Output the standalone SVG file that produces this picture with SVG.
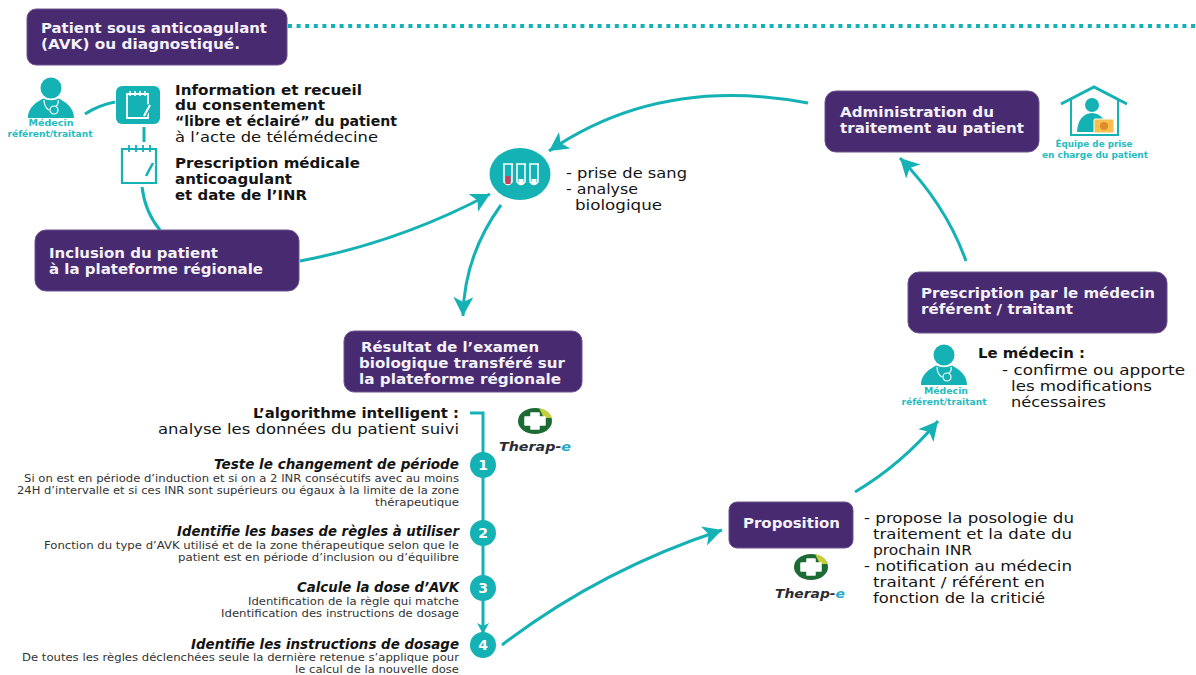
<svg xmlns="http://www.w3.org/2000/svg" width="1196" height="675" viewBox="0 0 1196 675">
<style>
text{font-family:"DejaVu Sans","Open Sans",sans-serif;fill:#141414}
.box{fill:#472a70;stroke:#6d5390;stroke-width:1}
.bt{fill:#f4f1f8;font-size:13.6px;font-weight:700}
.bb{font-size:13.6px;font-weight:700}
.rg{font-size:13.6px}
.lab{fill:#25bcc0;font-size:9px;font-weight:700;text-anchor:middle}
.c{fill:none;stroke:#14b1b5;stroke-width:3}
.h{font-size:13.6px;font-weight:700;font-style:italic;text-anchor:end}
.s{font-size:9.8px;text-anchor:end;fill:#333}
.n{fill:#fff;font-size:14px;font-weight:700;text-anchor:middle}
.ci{fill:#14b1b5}
.th{font-size:13px;font-weight:700;font-style:italic;fill:#2b2b33}
</style>
<defs>
<marker id="ah" markerUnits="userSpaceOnUse" markerWidth="26" markerHeight="26" refX="19" refY="11" orient="auto">
<path d="M0 1 L19 11 L0 21 L5 11Z" fill="#14b1b5"/>
</marker>
<marker id="as" markerUnits="userSpaceOnUse" markerWidth="16" markerHeight="16" refX="11" refY="7" orient="auto">
<path d="M0 1 L11 7 L0 13 L3 7Z" fill="#14b1b5"/>
</marker>
<symbol id="doc" overflow="visible" viewBox="0 0 1 1" width="1" height="1">
<circle cx="0" cy="0" r="10.5" fill="#14b1b5"/>
<path d="M-23 30C-23 18-12 13-8 10.500Q0 14 8 10.500C12 13 23 18 23 30Z" fill="#14b1b5"/>
<path d="M-7 12Q-7 19-2 22M7 12Q8 16 5 18" fill="none" stroke="#fff" stroke-width="1.200"/>
<circle cx="3" cy="22" r="4" fill="none" stroke="#fff" stroke-width="1.200"/>
</symbol>
<symbol id="logo" overflow="visible" viewBox="0 0 1 1" width="1" height="1">
<ellipse cx="0" cy="0" rx="17" ry="13" fill="#1d6b34"/>
<path d="M4-13Q14-11 17-3L9-3Z" fill="#c6cf3a"/>
<path d="M-4-8H4V-4H10V4H4V8H-4V4H-10V-4H-4Z" fill="#fff" stroke="#fff" stroke-width="1.500" stroke-linejoin="round"/>
</symbol>
</defs>

<g id="connectors">
<path class="c" style="stroke-dasharray:4 4.600;stroke-width:4" d="M288 26H1196"/>
<path class="c" d="M85 114Q99 105 115 102"/>
<path class="c" d="M144 127V142"/>
<path class="c" d="M142 187Q145 212 160 230"/>
<path class="c" d="M300 261Q400 242 490 194" marker-end="url(#ah)"/>
<path class="c" d="M808 103Q660 75 549 151" marker-end="url(#ah)"/>
<path class="c" d="M501 205Q464 256 463 316" marker-end="url(#ah)"/>
<path class="c" d="M966 261Q946 205 900 158" marker-end="url(#ah)"/>
<path class="c" d="M855 492Q902 464 938 421" marker-end="url(#ah)"/>
<path class="c" d="M502 645Q600 570 722 530" marker-end="url(#ah)"/>
<path class="c" d="M470 413H483V634" marker-end="url(#as)"/>
</g>

<g id="patient"><rect class="box" x="27" y="9" width="260" height="56" rx="9"/>
<text class="bt" x="41" y="33" textLength="226" lengthAdjust="spacingAndGlyphs">Patient sous anticoagulant</text><text class="bt" x="41" y="49" textLength="199" lengthAdjust="spacingAndGlyphs">(AVK) ou diagnostiqué.</text></g>

<g id="medecin-1"><use href="#doc" x="51" y="88"/><text class="lab" x="51" y="126" textLength="45" lengthAdjust="spacingAndGlyphs">Médecin</text><text class="lab" x="50" y="137" textLength="85" lengthAdjust="spacingAndGlyphs">référent/traitant</text></g>

<g id="consent-icon"><rect x="116" y="86" width="44" height="38" rx="6" class="ci"/>
<path d="M127 94H148V118H127Z" fill="none" stroke="#fff" stroke-width="1.800"/>
<path d="M130 91V96M135 91V96M140 91V96M145 91V96" stroke="#fff" stroke-width="1.500"/>
<path d="M150 105L144 116" stroke="#14b1b5" stroke-width="5"/><path d="M150 105L144 116" stroke="#fff" stroke-width="2.200"/></g>

<g id="prescription-icon"><path d="M122 149H156V183H122Z" fill="none" stroke="#14b1b5" stroke-width="2.200"/>
<path d="M129 145V152M136 145V152M143 145V152M150 145V152" stroke="#14b1b5" stroke-width="1.800"/>
<path d="M153 163L146 176" stroke="#fff" stroke-width="6"/><path d="M153 163L146 176" stroke="#14b1b5" stroke-width="2.600"/></g>

<g id="consent-text">
<text class="bb" x="175" y="95" textLength="187" lengthAdjust="spacingAndGlyphs">Information et recueil</text><text class="bb" x="175" y="110" textLength="150" lengthAdjust="spacingAndGlyphs">du consentement</text>
<text class="bb" x="175" y="126" textLength="222" lengthAdjust="spacingAndGlyphs">“libre et éclairé” du patient</text><text class="rg" x="175" y="142" textLength="203" lengthAdjust="spacingAndGlyphs">à l’acte de télémédecine</text>
<text class="bb" x="175" y="168" textLength="185" lengthAdjust="spacingAndGlyphs">Prescription médicale</text><text class="bb" x="175" y="184" textLength="117" lengthAdjust="spacingAndGlyphs">anticoagulant</text><text class="bb" x="175" y="200" textLength="132" lengthAdjust="spacingAndGlyphs">et date de l’INR</text></g>

<g id="inclusion"><rect class="box" x="35" y="230" width="264" height="61" rx="11"/>
<text class="bt" x="49" y="258" textLength="169" lengthAdjust="spacingAndGlyphs">Inclusion du patient</text><text class="bt" x="49" y="274" textLength="214" lengthAdjust="spacingAndGlyphs">à la plateforme régionale</text></g>

<g id="prise"><ellipse cx="520" cy="174" rx="30.500" ry="26" class="ci"/>
<path d="M504 164V182Q508 187 512 182V164M517 164V182Q521 187 525 182V164M530 164V182Q534 187 538 182V164M503 164H513M516 164H526M529 164H539" fill="none" stroke="#fff" stroke-width="1.500"/>
<rect x="505.500" y="176" width="5" height="8" fill="#d23c5a"/>
<rect x="518.500" y="179" width="5" height="5" fill="#fff"/><rect x="531.500" y="179" width="5" height="5" fill="#fff"/>
<text class="rg" x="566" y="178" textLength="121" lengthAdjust="spacingAndGlyphs">- prise de sang</text><text class="rg" x="566" y="194" textLength="72" lengthAdjust="spacingAndGlyphs">- analyse</text><text class="rg" x="575" y="210" textLength="87" lengthAdjust="spacingAndGlyphs">biologique</text></g>

<g id="resultat"><rect class="box" x="344" y="331" width="238" height="61" rx="10"/>
<text class="bt" x="361" y="352" textLength="178" lengthAdjust="spacingAndGlyphs">Résultat de l’examen</text><text class="bt" x="359" y="368" textLength="206" lengthAdjust="spacingAndGlyphs">biologique transféré sur</text><text class="bt" x="359" y="384" textLength="202" lengthAdjust="spacingAndGlyphs">la plateforme régionale</text></g>

<g id="algo">
<text class="bb" text-anchor="end" x="459" y="418" style="font-size:14px" textLength="206" lengthAdjust="spacingAndGlyphs">L’algorithme intelligent :</text>
<text class="rg" text-anchor="end" x="459" y="434" style="font-size:14px" textLength="301" lengthAdjust="spacingAndGlyphs">analyse les données du patient suivi</text></g>

<g id="therap-1"><use href="#logo" x="535" y="421"/><text class="th" x="499" y="451" textLength="72" lengthAdjust="spacingAndGlyphs">Therap-<tspan style="fill:#2aa9c9">e</tspan></text></g>

<g id="step-1"><circle cx="483" cy="465" r="13" class="ci"/><text class="n" x="483" y="470">1</text>
<text class="h" x="459" y="469" textLength="245" lengthAdjust="spacingAndGlyphs">Teste le changement de période</text>
<text class="s" x="459" y="482" textLength="435" lengthAdjust="spacingAndGlyphs">Si on est en période d’induction et si on a 2 INR consécutifs avec au moins</text>
<text class="s" x="459" y="494" textLength="442" lengthAdjust="spacingAndGlyphs">24H d’intervalle et si ces INR sont supérieurs ou égaux à la limite de la zone</text>
<text class="s" x="459" y="506" textLength="84" lengthAdjust="spacingAndGlyphs">thérapeutique</text></g>
<g id="step-2"><circle cx="483" cy="533" r="13" class="ci"/><text class="n" x="483" y="538">2</text>
<text class="h" x="459" y="536" textLength="282" lengthAdjust="spacingAndGlyphs">Identifie les bases de règles à utiliser</text>
<text class="s" x="459" y="549" textLength="415" lengthAdjust="spacingAndGlyphs">Fonction du type d’AVK utilisé et de la zone thérapeutique selon que le</text>
<text class="s" x="459" y="561" textLength="281" lengthAdjust="spacingAndGlyphs">patient est en période d’inclusion ou d’équilibre</text></g>
<g id="step-3"><circle cx="483" cy="588" r="13" class="ci"/><text class="n" x="483" y="593">3</text>
<text class="h" x="459" y="592" textLength="162" lengthAdjust="spacingAndGlyphs">Calcule la dose d’AVK</text>
<text class="s" x="459" y="605" textLength="211" lengthAdjust="spacingAndGlyphs">Identification de la règle qui matche</text>
<text class="s" x="459" y="617" textLength="238" lengthAdjust="spacingAndGlyphs">Identification des instructions de dosage</text></g>
<g id="step-4"><circle cx="483" cy="645" r="13" class="ci"/><text class="n" x="483" y="650">4</text>
<text class="h" x="459" y="649" textLength="268" lengthAdjust="spacingAndGlyphs">Identifie les instructions de dosage</text>
<text class="s" x="459" y="661" textLength="437" lengthAdjust="spacingAndGlyphs">De toutes les règles déclenchées seule la dernière retenue s’applique pour</text>
<text class="s" x="459" y="673" textLength="164" lengthAdjust="spacingAndGlyphs">le calcul de la nouvelle dose</text></g>

<g id="proposition"><rect class="box" x="729" y="502" width="124" height="46" rx="8"/>
<text class="bt" x="743" y="528" textLength="97" lengthAdjust="spacingAndGlyphs">Proposition</text>
<text class="rg" x="864" y="523" textLength="210" lengthAdjust="spacingAndGlyphs">- propose la posologie du</text><text class="rg" x="873" y="539" textLength="199" lengthAdjust="spacingAndGlyphs">traitement et la date du</text><text class="rg" x="873" y="555" textLength="99" lengthAdjust="spacingAndGlyphs">prochain INR</text>
<text class="rg" x="864" y="571" textLength="208" lengthAdjust="spacingAndGlyphs">- notification au médecin</text><text class="rg" x="873" y="587" textLength="172" lengthAdjust="spacingAndGlyphs">traitant / référent en</text><text class="rg" x="873" y="603" textLength="172" lengthAdjust="spacingAndGlyphs">fonction de la criticié</text></g>

<g id="therap-2"><use href="#logo" x="811" y="567"/><text class="th" x="775" y="598" textLength="70" lengthAdjust="spacingAndGlyphs">Therap-<tspan style="fill:#2aa9c9">e</tspan></text></g>

<g id="prescription"><rect class="box" x="908" y="272" width="259" height="61" rx="11"/>
<text class="bt" x="921" y="298" textLength="234" lengthAdjust="spacingAndGlyphs">Prescription par le médecin</text><text class="bt" x="921" y="314" textLength="152" lengthAdjust="spacingAndGlyphs">référent / traitant</text></g>

<g id="medecin-2"><use href="#doc" x="944" y="355"/><text class="lab" x="946" y="394" textLength="44" lengthAdjust="spacingAndGlyphs">Médecin</text><text class="lab" x="944" y="405" textLength="85" lengthAdjust="spacingAndGlyphs">référent/traitant</text>
<text class="bb" x="978" y="358" textLength="107" lengthAdjust="spacingAndGlyphs">Le médecin :</text><text class="rg" x="1002" y="375" textLength="183" lengthAdjust="spacingAndGlyphs">- confirme ou apporte</text><text class="rg" x="1011" y="391" textLength="141" lengthAdjust="spacingAndGlyphs">les modifications</text><text class="rg" x="1011" y="407" textLength="95" lengthAdjust="spacingAndGlyphs">nécessaires</text></g>

<g id="administration"><rect class="box" x="825" y="91" width="214" height="61" rx="11"/>
<text class="bt" x="840" y="117" textLength="154" lengthAdjust="spacingAndGlyphs">Administration du</text><text class="bt" x="840" y="133" textLength="184" lengthAdjust="spacingAndGlyphs">traitement au patient</text></g>

<g id="equipe"><path d="M1061 104L1094 87L1127 104" fill="none" stroke="#14b1b5" stroke-width="3"/>
<path d="M1071 99V135H1118V99" fill="none" stroke="#14b1b5" stroke-width="2"/>
<circle cx="1092" cy="105" r="7" class="ci"/><path d="M1077 132Q1078 114 1092 113Q1106 114 1107 132Z" class="ci"/>
<rect x="1094" y="119" width="20" height="14" rx="1" fill="#f5c04f" stroke="#fff"/><circle cx="1104" cy="126" r="4" fill="#e08a2a"/>
<text class="lab" x="1094" y="147" textLength="77" lengthAdjust="spacingAndGlyphs">Équipe de prise</text><text class="lab" x="1095" y="158" textLength="106" lengthAdjust="spacingAndGlyphs">en charge du patient</text></g>
</svg>
